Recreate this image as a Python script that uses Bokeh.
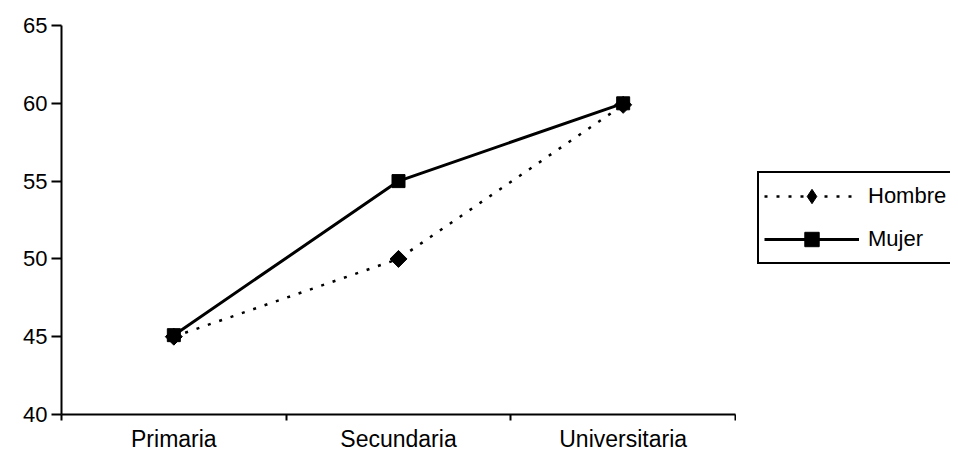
import math
from bokeh.plotting import figure
from bokeh.layouts import row
from bokeh.models import (Legend, LegendItem, FixedTicker, Range1d, LinearAxis,
                          CategoricalAxis)
from bokeh.embed import file_html
from bokeh.resources import INLINE

categories = ["Primaria", "Secundaria", "Universitaria"]
hombre = [45.0, 50.0, 59.9]
mujer = [45.1, 55.0, 60.0]
y_ticks = [40, 45, 50, 55, 60, 65]
category_edges = [0, 1, 2, 3]

FONT = "Liberation Sans"

p = figure(x_range=categories, y_range=Range1d(40, 65), width=736, height=454,
           output_backend="svg", toolbar_location=None, x_axis_location=None,
           min_border_left=61, min_border_right=1, min_border_top=25, min_border_bottom=39)
p.x_range.range_padding = 0
p.outline_line_color = None
p.grid.grid_line_color = None
p.background_fill_color = "white"

p.line(categories, hombre, line_color="black", line_width=2.5, line_dash="3 9")
p.scatter(categories, hombre, marker="square", angle=math.pi / 4, size=12,
          fill_color="black", line_color="black")
p.line(categories, mujer, line_color="black", line_width=3)
p.scatter(categories, mujer, marker="square", size=13, fill_color="black", line_color="black")

# y axis
ya = p.yaxis[0]
ya.ticker = FixedTicker(ticks=y_ticks)
ya.axis_line_color = "black"
ya.axis_line_width = 2
ya.major_tick_line_color = "black"
ya.major_tick_line_width = 2
ya.minor_tick_line_color = None
ya.major_tick_in = 0
ya.major_tick_out = 10
ya.major_label_standoff = 4
ya.major_label_text_font = FONT
ya.major_label_text_font_size = "22px"
ya.major_label_text_color = "black"

# x axis line with ticks at the category boundaries (synthetic coordinates of the factor range)
edge_axis = LinearAxis(ticker=FixedTicker(ticks=category_edges))
edge_axis.axis_line_color = "black"
edge_axis.axis_line_width = 2
edge_axis.major_tick_line_color = "black"
edge_axis.major_tick_line_width = 2
edge_axis.major_tick_in = 0
edge_axis.major_tick_out = 6
edge_axis.minor_tick_line_color = None
edge_axis.major_label_text_font_size = "0px"
edge_axis.major_label_standoff = 0
edge_axis.major_label_overrides = {e: "" for e in category_edges}
p.add_layout(edge_axis, "below")

# category labels
cat_axis = CategoricalAxis()
cat_axis.axis_line_color = None
cat_axis.major_tick_line_color = None
cat_axis.minor_tick_line_color = None
cat_axis.major_tick_out = 0
cat_axis.major_tick_in = 0
cat_axis.major_label_standoff = 5
cat_axis.major_label_text_font = FONT
cat_axis.major_label_text_font_size = "23px"
cat_axis.major_label_text_color = "black"
p.add_layout(cat_axis, "below")

# legend panel (its own series are kept out of view by its y range)
q = figure(x_range=categories, y_range=Range1d(0, 1), width=214, height=454,
           output_backend="svg", toolbar_location=None,
           x_axis_location=None, y_axis_location=None,
           min_border_left=0, min_border_right=0, min_border_top=0, min_border_bottom=0)
q.outline_line_color = None
q.grid.grid_line_color = None
lh = q.line(categories, hombre, line_color="black", line_width=2.5, line_dash="3 9")
mh = q.scatter(categories, hombre, marker="diamond", size=22, fill_color="black", line_color="black")
lm = q.line(categories, mujer, line_color="black", line_width=3)
mm = q.scatter(categories, mujer, marker="square", size=14, fill_color="black", line_color="black")

legend = Legend(items=[LegendItem(label="Hombre", renderers=[lh, mh]),
                       LegendItem(label="Mujer", renderers=[lm, mm])],
                location=(21, 150))
legend.glyph_width = 95
legend.glyph_height = 36
legend.label_standoff = 9
legend.label_text_font = FONT
legend.label_text_font_size = "22px"
legend.label_text_color = "black"
legend.border_line_color = "black"
legend.border_line_alpha = 1
legend.border_line_width = 2
legend.padding = 5
legend.spacing = 7
legend.margin = 0
legend.background_fill_alpha = 1
q.add_layout(legend, "center")

layout = row(p, q, spacing=0)
open("out.html", "w").write(file_html(layout, INLINE))
